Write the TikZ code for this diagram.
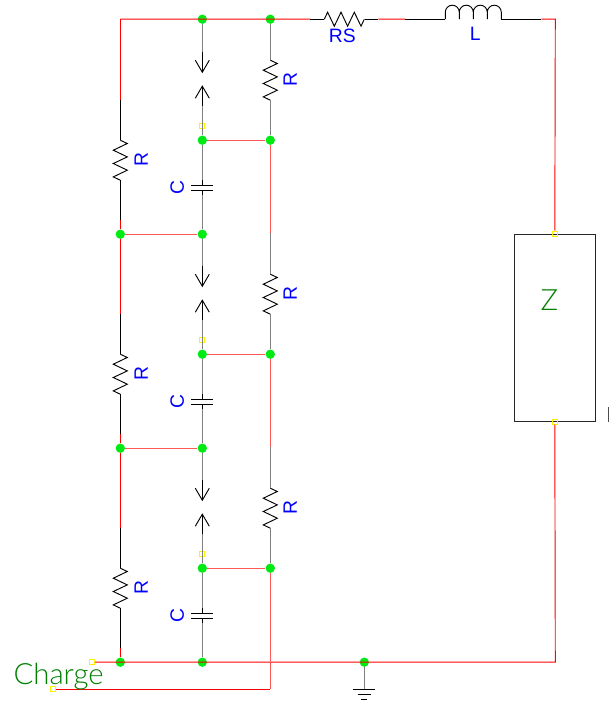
\documentclass[tikz,border=0pt]{standalone}
\usepackage{fontspec}
\setmainfont{Liberation Sans}
\newfontfamily\thinfont[UprightFont={* Light}]{Lato}
\definecolor{junction}{RGB}{0,235,20}
\tikzset{
	wire/.style={red,line width=0.7pt},
	paleW/.style={red!65,line width=1pt},
	lead/.style={black!50,line width=1.2pt},
	part/.style={black,line width=0.7pt},
	dot/.style={circle,fill=junction,inner sep=0pt,minimum size=7pt},
	port/.style={rectangle,draw=yellow,fill=none,line width=0.6pt,inner sep=0pt,minimum size=3.8pt},
	val/.style={text=blue,font=\fontsize{14.5}{14.5}\selectfont,inner sep=0pt},
	title/.style={text=green!50!black,font=\thinfont\fontsize{22}{22}\selectfont,inner sep=0pt},
	resistor/.pic={
		\draw [part] (0,0) -- (7,3.3) -- (-7,10) -- (7,16.7) -- (-7,23.3) -- (7,30) -- (-7,36.7) -- (0,40);
	},
	vee/.pic={
		\draw [part] (-7,-12) -- (0,0) -- (7,-12);
	},
}
\begin{document}
\begin{tikzpicture}[x=0.75pt,y=-0.75pt]
	\useasboundingbox (-0.3,-0.2) rectangle (612.7,702.8);
	% corners and ends of the wires
		\coordinate (tl) at (120,19);
		\coordinate (tr) at (555,19);
		\coordinate (br) at (555,662);
		\coordinate (chargeBend) at (270,689);
		\coordinate (rsIn) at (310,19);
		\coordinate (rsA) at (324,19);
		\coordinate (rsB) at (365,19);
		\coordinate (rsOut) at (378,19);
		\coordinate (lIn) at (405,19);
		\coordinate (lA) at (445,19);
		\coordinate (lB) at (501,19);
		\coordinate (lOut) at (541,19);
		\coordinate (gnd) at (364,689);
	% junctions on the rails
		\node [dot] (m0) at (202,19) {};
		\node [dot] (r0) at (270,19) {};
		\node [dot] (gndDot) at (364,662) {};
		\node [dot] (l1) at (120,234) {};
		\node [dot] (l2) at (120,448) {};
		\node [dot] (l3) at (120,662) {};
		\node [dot] (m1) at (202,234) {};
		\node [dot] (m2) at (202,448) {};
		\node [dot] (m3) at (202,662) {};
		\node [port] (pc) at (92,662) {};
		\node [port] (pd) at (53,689) {};
	% load
		\node [draw=black!85,line width=0.8pt,minimum width=60.75pt,minimum height=140.25pt,inner sep=0pt] (Z) at (554.5,327.5) {};
		\node [port] (zn) at (Z.north) {};
		\node [port] (zs) at (Z.south) {};
		\node [title] (zText) at (549,300) {Z};
		\draw [black!70,line width=0.9pt] (608,407) -- (608,422);
	% three stages
		\foreach \i/\j in {0/1,1/2,2/3} {
			\pgfmathtruncatemacro{\y}{214*\i}
			\node [dot] (n\i) at (202,140+\y) {};
			\node [dot] (s\i) at (270,140+\y) {};
			\node [port] (p\i) at (202,126+\y) {};
			% left resistor
			\coordinate (la\i) at (120,100+\y);
			\coordinate (lb\i) at (120,140+\y);
			\coordinate (lc\i) at (120,180+\y);
			\coordinate (ld\i) at (120,220+\y);
			\draw [part] (la\i) -- (lb\i) (lc\i) -- (ld\i);
			\pic at (lb\i) {resistor};
			\node [val,rotate=90] (lr\i) at (141,159+\y) {R};
			% spark gap
			\coordinate (ga\i) at (202,52+\y);
			\coordinate (gb\i) at (202,72+\y);
			\coordinate (gc\i) at (202,86+\y);
			\coordinate (gd\i) at (202,106+\y);
			\draw [part] (ga\i) -- (gb\i);
			\draw [part] (gd\i) -- (gc\i);
			\pic at (gb\i) {vee};
			\pic [rotate=180] at (gc\i) {vee};
			\draw [lead] (gd\i) -- (n\i);
			% capacitor
			\coordinate (ca\i) at (202,180+\y);
			\coordinate (cb\i) at (202,185+\y);
			\coordinate (cc\i) at (202,190+\y);
			\coordinate (cd\i) at (202,195+\y);
			\draw [lead] (n\i) -- (ca\i) (cd\i) -- (m\j);
			\draw [part] (ca\i) -- (cb\i) (cc\i) -- (cd\i);
			\draw [part] ([xshift=-8.25pt]cb\i) -- ([xshift=8.25pt]cb\i);
			\draw [part] ([xshift=-8.25pt]cc\i) -- ([xshift=8.25pt]cc\i);
			\node [val,rotate=90] (cl\i) at (177,187+\y) {C};
			% right resistor
			\coordinate (ra\i) at (270,60+\y);
			\coordinate (rb\i) at (270,100+\y);
			\pic at (ra\i) {resistor};
			\draw [lead] (rb\i) -- (s\i);
			\node [val,rotate=90] (rr\i) at (290,79+\y) {R};
			% cross link
			\draw [paleW] (n\i) -- (s\i);
		}
	% links between stages
		\draw [wire] (l3) -- (ld2) (l2) -- (la2) (l2) -- (ld1) (l1) -- (la1) (l1) -- (ld0) (tl) -- (la0);
		\draw [paleW] (l1) -- (m1);
		\draw [paleW] (l2) -- (m2);
		\draw [lead] (m0) -- (ga0);
		\draw [lead] (m1) -- (ga1);
		\draw [lead] (m2) -- (ga2);
		\draw [lead] (r0) -- (ra0);
		\coordinate (ra1a) at (270,233);
		\coordinate (ra2a) at (270,447);
		\draw [paleW] (s0) -- (ra1a);
		\draw [lead] (ra1a) -- (ra1);
		\draw [paleW] (s1) -- (ra2a);
		\draw [lead] (ra2a) -- (ra2);
	% top wire
		\draw [wire] (tl) -- (rsIn) (rsOut) -- (lIn) (lOut) -- (tr) -- (zn);
		\draw [part] (rsIn) -- (rsA) (rsB) -- (rsOut) (lIn) -- (lA) (lB) -- (lOut);
		\pic [rotate=90] at (rsA) {resistor};
		\draw [part] (lA) -- ++(0,-7) arc (180:360:7) -- ++(0,7) ++(0,-7) arc (180:360:7) -- ++(0,7) ++(0,-7) arc (180:360:7) -- ++(0,7) ++(0,-7) arc (180:360:7) -- (lB);
		\node [val] (rsText) at (342,36) {RS};
		\node [val] (lText) at (475,34) {L};
	% bottom wires
		\draw [wire] (pc) -- (br) -- (zs);
		\draw [paleW] (s2) -- (chargeBend);
		\draw [wire] (pd) -- (chargeBend);
		\node [title,anchor=west] (chargeText) at (13,676) {Charge};
	% ground
		\draw [lead] (gndDot) -- (gnd);
		\draw [part] ([xshift=-8.25pt]gnd) -- ([xshift=8.25pt]gnd);
		\draw [part] ([xshift=-5pt,yshift=-4pt]gnd) -- ([xshift=5pt,yshift=-4pt]gnd);
		\draw [part] ([xshift=-2.25pt,yshift=-8pt]gnd) -- ([xshift=2.25pt,yshift=-8pt]gnd);
\end{tikzpicture}
\end{document}
